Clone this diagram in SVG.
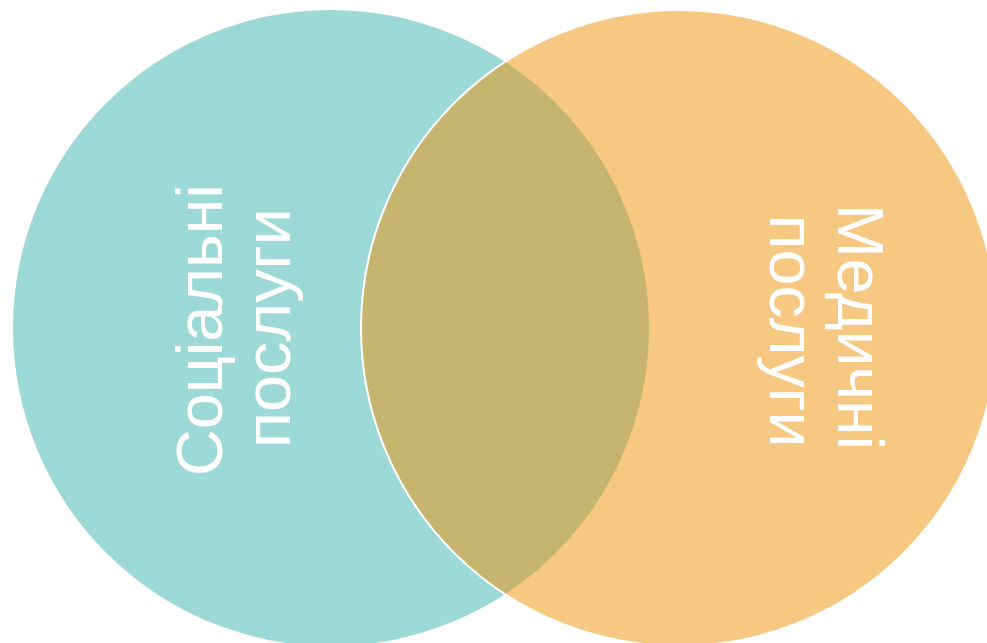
<svg xmlns="http://www.w3.org/2000/svg" width="987" height="643" viewBox="0 0 987 643">
<style>
.lbl{font-family:"Liberation Sans",Arial,sans-serif;font-size:64px;fill:#ffffff;text-anchor:middle}
</style>
<rect width="987" height="643" fill="#ffffff"/>
<g id="social">
<circle cx="331" cy="328" r="318" fill="#9DD9D6"/>
</g>
<g id="medical">
<circle cx="679" cy="328" r="318" fill="#F7C882"/>
</g>
<g id="overlap">
<path d="M505,61.8 A318,318 0 0 1 505,594.2 A318,318 0 0 1 505,61.8 Z" fill="#C6B56E"/>
<circle cx="679" cy="328" r="318" fill="none" stroke="#ffffff" stroke-width="2"/>
</g>
<g id="social-label">
<text class="lbl" transform="translate(222,330) rotate(-90)" textLength="292" lengthAdjust="spacingAndGlyphs">Соціальні</text>
<text class="lbl" transform="translate(290,328) rotate(-90)" textLength="240" lengthAdjust="spacingAndGlyphs">послуги</text>
</g>
<g id="medical-label">
<text class="lbl" transform="translate(838,327) rotate(90)" textLength="246" lengthAdjust="spacingAndGlyphs">Медичні</text>
<text class="lbl" transform="translate(770,331) rotate(90)" textLength="233" lengthAdjust="spacingAndGlyphs">послуги</text>
</g>
</svg>
